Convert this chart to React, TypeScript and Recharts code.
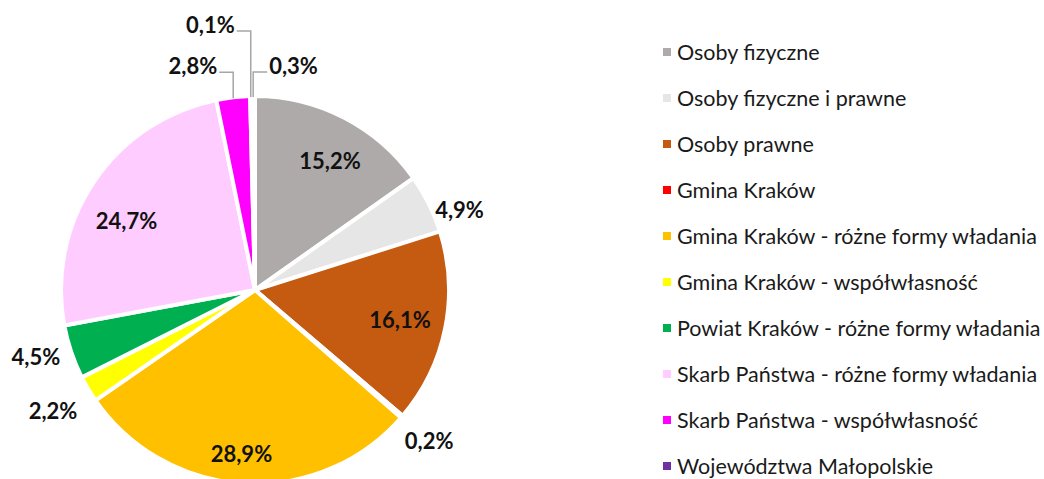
import { PieChart, Pie, Cell, Legend } from 'recharts'

const categories = [
  'Osoby fizyczne',
  'Osoby fizyczne i prawne',
  'Osoby prawne',
  'Gmina Kraków',
  'Gmina Kraków - różne formy władania',
  'Gmina Kraków - współwłasność',
  'Powiat Kraków - różne formy władania',
  'Skarb Państwa - różne formy władania',
  'Skarb Państwa - współwłasność',
  'Województwa Małopolskie',
  'Inne',
]
const shares = [15.2, 4.9, 16.1, 0.2, 28.9, 2.2, 4.5, 24.7, 2.8, 0.1, 0.3]
const colors = [
  '#AEAAAA', '#E7E6E6', '#C55A11', '#FF0000', '#FFC000',
  '#FFFF00', '#00B050', '#FFCCFF', '#FF00FF', '#7030A0', '#4472C4',
]
// only the first ten entries are visible in the legend
const legendCount = 10

// label radius (px from centre) and clockwise nudge (deg) for the plain labels
const labelGeom: [number, number][] = [
  [150, 2.6], [220, 4.8], [148, 0], [230, 0], [164, 1.5], [235, 0], [229, 1.7], [146, -5.6],
]
// small slices at the top get a leader line instead
const leaders: Record<number, { rise: number; dir: number }> = {
  8: { rise: 26, dir: -1 },
  9: { rise: 66, dir: -1 },
  10: { rise: 25, dir: 1 },
}

const data = categories.map((name, i) => ({ name, value: shares[i] }))
const RAD = Math.PI / 180
const fmt = (v: number) => `${v.toFixed(1).replace('.', ',')}%`

function renderLabel(props: any) {
  const { cx, cy, midAngle, outerRadius, index, value } = props
  const style = { fontFamily: 'Lato', fontWeight: 700, fontSize: 22, fill: '#111' }

  if (leaders[index]) {
    const { rise, dir } = leaders[index]
    const ax = cx + (outerRadius - 1) * Math.cos(-midAngle * RAD)
    const ay = cy + (outerRadius - 1) * Math.sin(-midAngle * RAD)
    const ey = ay - rise
    const hx = ax + dir * 14
    return (
      <g>
        <path d={`M${ax},${ay}L${ax},${ey}L${hx},${ey}`} stroke="#A6A6A6" strokeWidth={1.5} fill="none" />
        <text
          x={hx + dir * 2}
          y={ey - 6.5}
          textAnchor={dir < 0 ? 'end' : 'start'}
          dominantBaseline="central"
          style={style}
        >
          {fmt(value)}
        </text>
      </g>
    )
  }

  const [r, nudge] = labelGeom[index]
  const a = -(midAngle - nudge) * RAD
  return (
    <text
      x={cx + r * Math.cos(a)}
      y={cy + r * Math.sin(a)}
      textAnchor="middle"
      dominantBaseline="central"
      style={style}
    >
      {fmt(value)}
    </text>
  )
}

function renderLegend() {
  return (
    <div style={{ fontFamily: 'Lato', fontSize: 21.5, color: '#1a1a1a' }}>
      {categories.slice(0, legendCount).map((name, i) => (
        <div key={name} style={{ display: 'flex', alignItems: 'center', height: 46, whiteSpace: 'nowrap' }}>
          <span style={{ width: 8, height: 8, background: colors[i], marginRight: 6, display: 'inline-block' }} />
          <span>{name}</span>
        </div>
      ))}
    </div>
  )
}

export default function App() {
  return (
    <div style={{ position: 'absolute', left: 0, top: 0, background: '#fff' }}>
      <PieChart width={1044} height={479} margin={{ top: 0, right: 0, bottom: 0, left: 0 }}>
        <Pie
          data={data}
          dataKey="value"
          nameKey="name"
          cx={255}
          cy={290}
          outerRadius={194}
          startAngle={90}
          endAngle={-270}
          stroke="#fff"
          strokeWidth={4}
          label={renderLabel}
          labelLine={false}
          isAnimationActive={false}
        >
          {data.map((d, i) => (
            <Cell key={d.name} fill={colors[i]} />
          ))}
        </Pie>
        <Legend
          layout="vertical"
          verticalAlign="top"
          align="right"
          content={renderLegend}
          wrapperStyle={{ left: 663, top: 29, width: 380 }}
        />
      </PieChart>
    </div>
  )
}
